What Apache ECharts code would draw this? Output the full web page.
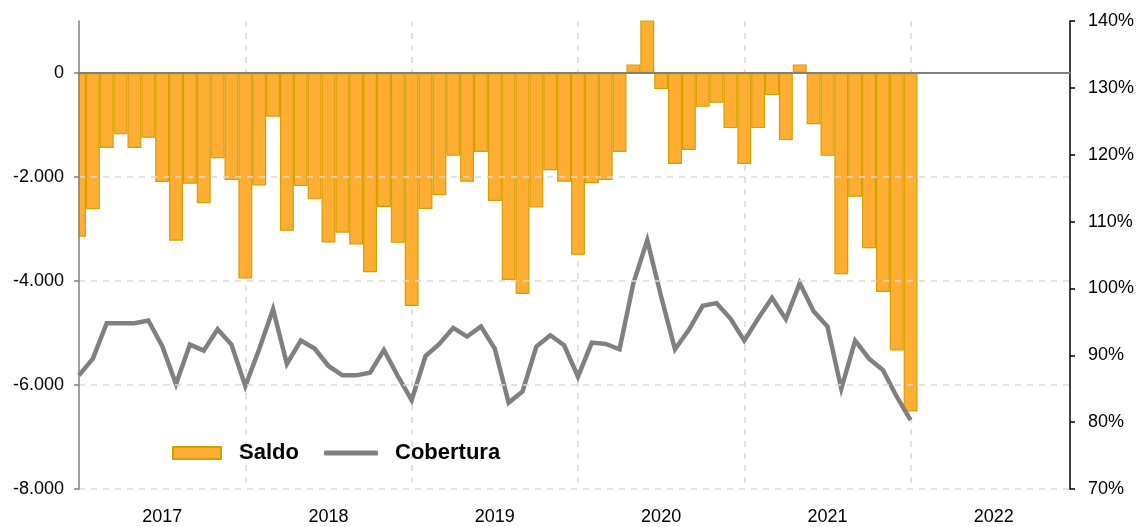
<!DOCTYPE html>
<html><head><meta charset="utf-8">
<script src="https://cdn.jsdelivr.net/npm/echarts@6/dist/echarts.min.js"></script>
<style>html,body{margin:0;padding:0;background:#fff}#c{width:1143px;height:527px}</style>
</head><body><div id="c"></div><script>
// Year labels (one per year, Jan 2017 .. 2022)
const years = ['2017','2018','2019','2020','2021','2022'];
// Monthly trade balance (Saldo), Jan 2017 .. Jan 2022
const saldo = [
  -3150,-2620,-1440,-1180,-1440,-1245,-2095,-3225,-2130,-2505,-1640,-2060,
  -3950,-2165,-840,-3035,-2175,-2430,-3260,-3070,-3300,-3830,-2575,-3265,
  -4480,-2615,-2350,-1590,-2090,-1520,-2460,-3980,-4250,-2585,-1870,-2090,
  -3495,-2120,-2060,-1520,165,1050,-310,-1750,-1480,-650,-570,-1060,
  -1750,-1060,-425,-1290,165,-985,-1590,-3870,-2380,-3370,-4210,-5335,
  -6510
];
// Coverage rate (Cobertura, %), Jan 2017 .. Jan 2022
const cobertura = [
  87.0,89.5,94.8,94.8,94.8,95.2,91.4,85.7,91.6,90.7,93.9,91.6,
  85.4,90.9,96.9,88.7,92.2,91.0,88.4,87.0,87.0,87.4,90.8,86.9,
  83.3,89.9,91.7,94.1,92.8,94.3,91.0,82.9,84.6,91.3,93.0,91.5,
  86.8,91.9,91.7,90.9,100.8,107.2,98.8,90.9,93.8,97.4,97.8,95.5,
  92.2,95.5,98.6,95.4,100.8,96.6,94.3,85.0,92.2,89.5,87.8,83.8,
  80.3
];
const leftTicks = [-8000,-6000,-4000,-2000,0];
const rightTicks = [70,80,90,100,110,120,130,140];

const FONT = 'Liberation Sans, Arial, sans-serif';
const fmtLeft = v => v === 0 ? '0' : (v < 0 ? '-' : '') + (Math.abs(v) / 1000) + '.000';

const chart = echarts.init(document.getElementById('c'), null, {renderer: 'canvas'});
const xBase = {type: 'value', min: 0, max: 71.5, gridIndex: 0, position: 'bottom'};
chart.setOption({
  animation: false,
  backgroundColor: '#fff',
  textStyle: {fontFamily: FONT},
  grid: {left: 79, right: 73, top: 21, bottom: 38, containLabel: false},
  legend: [
    {data: ['Saldo'], left: 167, top: 437, icon: 'rect', itemWidth: 48, itemHeight: 12,
     selectedMode: false,
     textStyle: {fontFamily: FONT, fontSize: 22, fontWeight: 'bold', color: '#000', padding: [0,0,0,13]}},
    {data: ['Cobertura'], left: 319, top: 437, icon: 'roundRect', itemWidth: 54, itemHeight: 5,
     selectedMode: false,
     itemStyle: {color: '#808080', borderWidth: 0},
     textStyle: {fontFamily: FONT, fontSize: 22, fontWeight: 'bold', color: '#000', padding: [0,0,0,12]}}
  ],
  xAxis: [
    Object.assign({}, xBase, {
      interval: 12, z: 0,
      axisLine: {show: false, onZero: false}, axisTick: {show: false}, axisLabel: {show: false},
      splitLine: {show: true, showMinLine: false, showMaxLine: false,
        lineStyle: {color: '#d9d9d9', width: 1.5, type: [6, 6]}}
    }),
    Object.assign({}, xBase, {
      interval: 6,
      axisLine: {show: false, onZero: false}, axisTick: {show: false}, splitLine: {show: false},
      axisLabel: {show: true, margin: 19, fontSize: 18, color: '#000', fontFamily: FONT,
        showMinLabel: false, showMaxLabel: false,
        formatter: v => (v % 12 === 6) ? (years[(v - 6) / 12] || '') : ''}
    }),
    Object.assign({}, xBase, {
      interval: 12, z: 5,
      axisLine: {show: true, onZero: true, onZeroAxisIndex: 0, lineStyle: {color: '#808080', width: 2}},
      axisTick: {show: false}, axisLabel: {show: false}, splitLine: {show: false}
    })
  ],
  yAxis: [
    {type: 'value', min: -8000, max: 1000, interval: 2000, position: 'left', z: 6,
     axisLine: {show: true, onZero: false, lineStyle: {color: '#808080', width: 1.5}},
     axisTick: {show: true, length: 5, customValues: leftTicks, lineStyle: {color: '#808080', width: 1.5}},
     axisLabel: {show: true, margin: 15, fontSize: 18, color: '#000', fontFamily: FONT,
       customValues: leftTicks, formatter: fmtLeft},
     splitLine: {show: true, showMaxLine: false, showMinLine: true,
       lineStyle: {color: '#d9d9d9', width: 1.5, type: [6, 6]}}},
    {type: 'value', min: 70, max: 140, interval: 10, position: 'right',
     axisLine: {show: true, onZero: false, lineStyle: {color: '#000', width: 1.5}},
     axisTick: {show: true, length: 5, lineStyle: {color: '#000', width: 1.5}},
     axisLabel: {show: true, margin: 18, fontSize: 18, color: '#000', fontFamily: FONT,
       formatter: v => v + '%'},
     splitLine: {show: false}}
  ],
  series: [
    {name: 'Saldo', type: 'bar', xAxisIndex: 0, yAxisIndex: 0, barWidth: 13.9, clip: true, z: 2,
     itemStyle: {color: '#FFAD33', borderColor: '#D4A000', borderWidth: 1.2},
     data: saldo.map((v, i) => [i, v])},
    {name: 'Cobertura', type: 'line', xAxisIndex: 0, yAxisIndex: 1, z: 4,
     symbol: 'none', lineStyle: {color: '#808080', width: 4.5, join: 'miter'},
     itemStyle: {color: '#808080'},
     data: cobertura.map((v, i) => [i, v])}
  ]
});
// Mask the part of the first bar that spills left of the plot area (ECharts does not clip it)
const x0 = chart.convertToPixel({xAxisIndex: 0}, 0);
const yTop = chart.convertToPixel({yAxisIndex: 0}, 1000);
const yBot = chart.convertToPixel({yAxisIndex: 0}, -8000);
chart.setOption({
  graphic: [{type: 'rect', z: 3, silent: true,
    shape: {x: x0 - 10, y: yTop, width: 9.5, height: yBot - yTop - 1},
    style: {fill: '#fff'}}]
});
</script></body></html>
